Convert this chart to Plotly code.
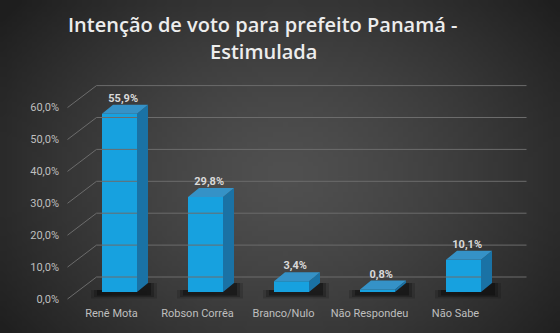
import base64
import struct
import zlib

import numpy as np
import plotly.graph_objects as go

# ---------------- data ----------------
categories = ["Renê Mota", "Robson Corrêa", "Branco/Nulo", "Não Respondeu", "Não Sabe"]
values = [0.559, 0.298, 0.034, 0.008, 0.101]
y_ticks = [0.0, 0.1, 0.2, 0.3, 0.4, 0.5, 0.6]
title_lines = ["Intenção de voto para prefeito Panamá -", "Estimulada"]

# ---------------- geometry (pixels) ----------------
W, H = 560, 333
L, R, T, B = 60, 540, 60, 302          # plot area
X0 = 119.5                              # px of first category centre (bar plane)
PXX = 86.0                              # px per category
PXY = 319.0                             # px per 1.0 (100 %)
ZERO_BAR = 292.0                        # px of 0 in bar plane
ZERO_FRONT = 299.0                      # px of 0 in front plane
BAR_W = 35 / PXX
# offsets bar plane -> back wall, bar plane -> front plane, bar depth
BDX, BDV = 20 / PXX, 15 / PXY
FDX, FDV = 9 / PXX, 7 / PXY
DDX, DDV = 11 / PXX, 9 / PXY

xr = [(L - X0) / PXX, (R - X0) / PXX]
yr = [(ZERO_BAR - B) / PXY, (ZERO_BAR - T) / PXY]
y2r = [(ZERO_FRONT - B) / PXY, (ZERO_FRONT - T) / PXY]


# ---------------- background gradient image ----------------
def png_uri(arr):
    h, w, _ = arr.shape
    raw = b"".join(b"\x00" + arr[i].astype(np.uint8).tobytes() for i in range(h))

    def chunk(tag, data):
        c = struct.pack(">I", len(data)) + tag + data
        return c + struct.pack(">I", zlib.crc32(tag + data) & 0xFFFFFFFF)

    png = b"\x89PNG\r\n\x1a\n"
    png += chunk(b"IHDR", struct.pack(">IIBBBBB", w, h, 8, 2, 0, 0, 0))
    png += chunk(b"IDAT", zlib.compress(raw, 9))
    png += chunk(b"IEND", b"")
    return "data:image/png;base64," + base64.b64encode(png).decode()


gw, gh = 112, 67
gx = (np.arange(gw) + 0.5) / gw * W
gy = (np.arange(gh) + 0.5) / gh * H
GX, GY = np.meshgrid(gx, gy)
rr = np.sqrt(((GX - 285) / 330) ** 2 + ((GY - 175) / 260) ** 2)
shade = np.clip(80 - 46 * rr ** 1.4, 30, 90)
img = np.stack([shade, shade, shade], axis=-1)
bg_uri = png_uri(img)

fig = go.Figure()

# ---------------- back wall gridlines + diagonals ----------------
gx_l, gy_l = [], []
for t in y_ticks:
    gx_l += [-0.5 - FDX, -0.5 + BDX, 4.5 + BDX, None]
    gy_l += [t - FDV, t + BDV, t + BDV, None]
fig.add_trace(go.Scatter(x=gx_l, y=gy_l, mode="lines",
                         line=dict(color="#6c6c6c", width=1),
                         hoverinfo="skip", showlegend=False))

# ---------------- shadows (only outside the front face) ----------------
idx = list(range(len(categories)))
for grow, alpha in [(6, 0.15), (3, 0.22), (0, 0.32)]:
    sx, sy = [], []
    for i in idx:
        xl_ = i - BAR_W / 2
        xr_ = i + BAR_W / 2
        x1 = xl_ - (5 + grow) / PXX
        x2 = xr_ + DDX + (3 + grow) / PXX
        ylo = -(3.5 + grow * 0.5) / PXY
        yhi = DDV
        sx += [x1, x2, x2, xr_, xr_, xl_, xl_, x1, x1, None]
        sy += [ylo, ylo, yhi, yhi, 0, 0, 2 / PXY, 2 / PXY, ylo, None]
    fig.add_trace(go.Scatter(x=sx, y=sy, mode="lines", fill="toself",
                             fillcolor=f"rgba(0,0,0,{alpha})",
                             line=dict(width=0), hoverinfo="skip", showlegend=False))

# ---------------- bar front faces ----------------
fig.add_trace(go.Bar(x=idx, y=values, width=BAR_W,
                     marker=dict(color="#17a1df", line=dict(width=0)),
                     hoverinfo="skip", showlegend=False))

# ---------------- side and top faces ----------------
sx, sy, tx, ty = [], [], [], []
for i, v in zip(idx, values):
    xr_ = i + BAR_W / 2
    xl_ = i - BAR_W / 2
    sx += [xr_, xr_, xr_ + DDX, xr_ + DDX, xr_, None]
    sy += [0, v, v + DDV, DDV, 0, None]
    tx += [xl_, xr_, xr_ + DDX, xl_ + DDX, xl_, None]
    ty += [v, v, v + DDV, v + DDV, v, None]
fig.add_trace(go.Scatter(x=sx, y=sy, mode="lines", fill="toself",
                         fillcolor="#1a72a5", line=dict(width=0),
                         hoverinfo="skip", showlegend=False))
fig.add_trace(go.Scatter(x=tx, y=ty, mode="lines", fill="toself",
                         fillcolor="#3592c7", line=dict(width=0),
                         hoverinfo="skip", showlegend=False))

# ---------------- data labels ----------------
labels = [f"{v * 100:.1f}%".replace(".", ",") for v in values]
fig.add_trace(go.Scatter(x=[i + DDX / 3 for i in idx], y=[v + DDV for v in values],
                         mode="text", text=labels, textposition="top center",
                         textfont=dict(family="Roboto", size=11, color="#d9d9d9",
                                       weight="bold"),
                         hoverinfo="skip", showlegend=False))

# invisible trace for the front-plane y axis
fig.add_trace(go.Scatter(x=[0], y=[0], yaxis="y2", mode="markers",
                         marker=dict(opacity=0), hoverinfo="skip", showlegend=False))

# ---------------- title ----------------
for line, py in zip(title_lines, [24, 51]):
    fig.add_annotation(text=line, xref="paper", yref="paper",
                       x=(263 - L) / (R - L), y=(B - py) / (B - T),
                       xanchor="center", yanchor="middle", showarrow=False,
                       font=dict(family="Open Sans", size=20, color="#ededed",
                                 weight=600))

fig.update_layout(
    width=W, height=H,
    margin=dict(l=L, r=W - R, t=T, b=H - B),
    paper_bgcolor="#3a3a3a", plot_bgcolor="rgba(0,0,0,0)",
    separators=",.",
    images=[dict(source=bg_uri, xref="paper", yref="paper",
                 x=-L / (R - L), y=1 + T / (B - T),
                 sizex=W / (R - L), sizey=H / (B - T),
                 xanchor="left", yanchor="top", sizing="stretch", layer="below")],
    xaxis=dict(range=xr, tickvals=idx, ticktext=categories, showgrid=False,
               zeroline=False, showline=False, ticks="", ticklabelshift=-8,
               ticklabelstandoff=3,
               tickfont=dict(family="Roboto", size=11, color="#bfbfbf")),
    yaxis=dict(range=yr, showgrid=False, zeroline=False, showline=False,
               showticklabels=False, ticks=""),
    yaxis2=dict(range=y2r, overlaying="y", side="left", anchor="x",
                tickvals=y_ticks, tickformat=".1%", showgrid=False,
                zeroline=False, showline=False, ticks="",
                tickfont=dict(family="Roboto", size=11, color="#bfbfbf")),
    font=dict(family="Roboto"),
)

fig.write_html("out.html")
